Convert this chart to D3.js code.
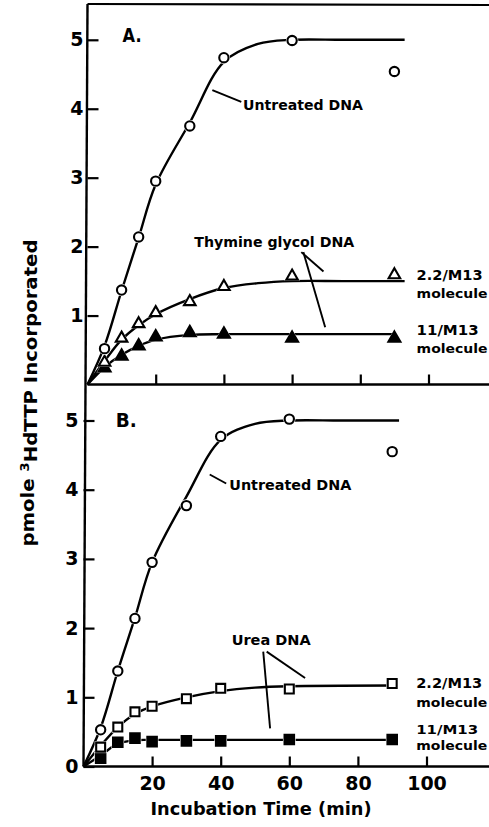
<!DOCTYPE html>
<html><head><meta charset="utf-8">
<script src="https://cdn.jsdelivr.net/npm/d3@7"></script>
<style>
body{margin:0;background:#fff}
svg{display:block}
text{font-family:"DejaVu Sans",sans-serif;font-weight:bold;fill:#000}
</style>
</head><body>
<svg id="c" width="489" height="827"></svg>
<script>
// ---- data (time in min, pmole 3HdTTP incorporated) ----
const times = [5, 10, 15, 20, 30, 40, 60, 90];
const untreatedA = [0.52, 1.37, 2.14, 2.95, 3.75, 4.74, 4.99, 4.54];
const thymine22A = [0.32, 0.67, 0.88, 1.04, 1.20, 1.42, 1.57, 1.59];
const thymine11A = [0.24, 0.41, 0.56, 0.69, 0.75, 0.73, 0.67, 0.67];
const untreatedB = [0.53, 1.38, 2.14, 2.95, 3.77, 4.77, 5.02, 4.55];
const urea22B = [0.28, 0.57, 0.79, 0.87, 0.98, 1.13, 1.12, 1.20];
const urea11B = [0.12, 0.35, 0.41, 0.36, 0.37, 0.37, 0.39, 0.39];

// fitted curves drawn by hand in the original figure
const fitUntreatedA = [[0,0],[5,0.56],[10,1.36],[15,2.13],[20,2.9],[30,3.8],[40,4.68],[50,4.94],[60,5.0],[75,5.0],[93,5.0]];
const fitThymine22A = [[0,0],[5,0.34],[10,0.65],[15,0.86],[20,1.02],[30,1.24],[40,1.40],[50,1.47],[60,1.50],[75,1.50],[93,1.50]];
const fitThymine11A = [[0,0],[5,0.25],[10,0.43],[15,0.56],[20,0.65],[30,0.72],[40,0.73],[60,0.73],[90,0.73]];
const fitUntreatedB = [[0,0],[5,0.56],[10,1.38],[15,2.15],[20,2.95],[30,3.9],[40,4.72],[50,4.95],[60,5.0],[75,5.0],[92,5.0]];
const fitUrea22B = [[0,0],[5,0.30],[10,0.57],[15,0.76],[20,0.87],[30,1.0],[40,1.09],[50,1.14],[60,1.16],[90,1.17]];
const fitUrea11B = [[0,0],[5,0.16],[10,0.33],[15,0.38],[20,0.385],[40,0.385],[90,0.385]];

const yTicksA = [1, 2, 3, 4, 5];
const yTicksB = [0, 1, 2, 3, 4, 5];
const xTicks = [20, 40, 60, 80, 100];

// ---- scales ----
const xA = d3.scaleLinear().domain([0, 118]).range([87.5, 87.5 + 118 * 3.41]);
const xB = d3.scaleLinear().domain([0, 118]).range([83.5, 83.5 + 118 * 3.43]);
const yA = d3.scaleLinear().domain([0, 5]).range([384.5, 39.8]);
const yB = d3.scaleLinear().domain([0, 5]).range([766.5, 420.5]);

const svg = d3.select("#c");
svg.append("rect").attr("width", 489).attr("height", 827).attr("fill", "#fff");

const W = 489;
// frame lines
svg.append("line").attr("x1", xA(0)).attr("y1", 4).attr("x2", W).attr("y2", 5)
  .attr("stroke", "#000").attr("stroke-width", 2.2);
svg.append("line").attr("x1", xA(0)).attr("y1", yA(0)).attr("x2", W).attr("y2", yA(0))
  .attr("stroke", "#000").attr("stroke-width", 2.4);
svg.append("line").attr("x1", xB(0)).attr("y1", yB(0)).attr("x2", W).attr("y2", yB(0))
  .attr("stroke", "#000").attr("stroke-width", 2.4);
svg.append("line").attr("x1", xA(0)).attr("y1", 4).attr("x2", xB(0)).attr("y2", yB(0))
  .attr("stroke", "#000").attr("stroke-width", 2.4);

function styleAxis(g) {
  g.select(".domain").remove();
  g.selectAll(".tick line").attr("stroke", "#000").attr("stroke-width", 2.2);
  g.selectAll(".tick text").attr("font-size", 19).attr("fill", "#000")
    .attr("font-family", "DejaVu Sans").attr("font-weight", "bold");
}

// y axes (ticks inward)
svg.append("g").attr("transform", `translate(${xA(0)},0)`)
  .call(d3.axisLeft(yA).tickValues(yTicksA).tickSizeInner(-11).tickSizeOuter(0).tickPadding(4).tickFormat(d3.format("d")))
  .call(styleAxis);
svg.append("g").attr("transform", `translate(${xB(0)},0)`)
  .call(d3.axisLeft(yB).tickValues(yTicksB).tickSizeInner(-11).tickSizeOuter(0).tickPadding(5).tickFormat(d3.format("d")))
  .call(styleAxis);

// x axes (ticks inward)
svg.append("g").attr("transform", `translate(0,${yA(0)})`)
  .call(d3.axisBottom(xA).tickValues(xTicks).tickSizeInner(-10).tickSizeOuter(0).tickFormat(""))
  .call(styleAxis);
svg.append("g").attr("transform", `translate(0,${yB(0)})`)
  .call(d3.axisBottom(xB).tickValues(xTicks).tickSizeInner(-10).tickSizeOuter(0).tickPadding(10).tickFormat(d3.format("d")))
  .call(styleAxis);

// curves
function curve(data, x, y) {
  svg.append("path").datum(data)
    .attr("d", d3.line().x(d => x(d[0])).y(d => y(d[1])).curve(d3.curveCatmullRom.alpha(0.5)))
    .attr("fill", "none").attr("stroke", "#000").attr("stroke-width", 2.4);
}
curve(fitUntreatedA, xA, yA);
curve(fitThymine22A, xA, yA);
curve(fitThymine11A, xA, yA);
curve(fitUntreatedB, xB, yB);
curve(fitUrea22B, xB, yB);
curve(fitUrea11B, xB, yB);

// markers
function markers(vals, x, y, type, size, filled) {
  const sym = d3.symbol().type(type).size(size);
  const halo = d3.symbol().type(type).size(size * 1.8);
  const g = svg.append("g");
  g.selectAll("path.h").data(vals).join("path").attr("class", "h")
    .attr("transform", (d, i) => `translate(${x(times[i])},${y(d)})`)
    .attr("d", halo).attr("fill", "#fff");
  g.selectAll("path.m").data(vals).join("path").attr("class", "m")
    .attr("transform", (d, i) => `translate(${x(times[i])},${y(d)})`)
    .attr("d", sym).attr("fill", filled ? "#000" : "#fff")
    .attr("stroke", "#000").attr("stroke-width", 2.1).attr("stroke-linejoin", "miter");
}
markers(thymine11A, xA, yA, d3.symbolTriangle, 62, true);
markers(thymine22A, xA, yA, d3.symbolTriangle, 58, false);
markers(untreatedA, xA, yA, d3.symbolCircle, 68, false);
markers(urea11B, xB, yB, d3.symbolSquare, 90, true);
markers(urea22B, xB, yB, d3.symbolSquare, 80, false);
markers(untreatedB, xB, yB, d3.symbolCircle, 68, false);

// annotation helpers
function label(txt, x, y, size, len) {
  const t = svg.append("text").attr("x", x).attr("y", y).attr("font-size", size).text(txt);
  if (len) t.attr("textLength", len).attr("lengthAdjust", "spacingAndGlyphs");
  return t;
}
function leader(x1, y1, x2, y2) {
  svg.append("line").attr("x1", x1).attr("y1", y1).attr("x2", x2).attr("y2", y2)
    .attr("stroke", "#000").attr("stroke-width", 1.9);
}

// panel labels
label("A.", xA(10.3), yA(4.97), 19, 19);
label("B.", xB(9.4), yB(4.9), 19, 21);

// Panel A annotations
leader(xA(36.6), yA(4.27), xA(45.1), yA(4.1));
label("Untreated DNA", xA(45.6), yA(3.98), 14, 120);
label("Thymine glycol DNA", xA(31.3), yA(2.0), 14, 160);
leader(xA(62.7), yA(1.92), xA(69.2), yA(1.64));
leader(xA(63.3), yA(1.92), xA(69.7), yA(0.83));
label("2.2/M13", xA(96.5), yA(1.51), 14, 66);
label("molecule", xA(96.5), yA(1.255), 13, 71);
label("11/M13", xA(96.5), yA(0.715), 14, 62);
label("molecule", xA(96.5), yA(0.455), 13, 71);

// Panel B annotations
leader(xB(36.8), yB(4.22), xB(41.6), yB(4.09));
label("Untreated DNA", xB(42.5), yB(3.99), 14, 122);
label("Urea DNA", xB(43.2), yB(1.76), 14, 79);
leader(xB(53.4), yB(1.66), xB(64.6), yB(1.28));
leader(xB(52.4), yB(1.66), xB(54.4), yB(0.55));
label("2.2/M13", xB(97), yB(1.14), 14, 66);
label("molecule", xB(97), yB(0.865), 13, 71);
label("11/M13", xB(97), yB(0.465), 13, 62);
label("molecule", xB(97), yB(0.245), 13, 71);

// axis titles
svg.append("text").attr("x", 261).attr("y", 815).attr("text-anchor", "middle")
  .attr("font-size", 18).attr("textLength", 221).attr("lengthAdjust", "spacingAndGlyphs")
  .text("Incubation Time (min)");
const yt = svg.append("text").attr("transform", "translate(34,393) rotate(-90)")
  .attr("text-anchor", "middle").attr("font-size", 18)
  .attr("textLength", 307).attr("lengthAdjust", "spacingAndGlyphs");
yt.append("tspan").text("pmole ");
yt.append("tspan").attr("dy", "-0.45em").attr("font-size", 12).text("3");
yt.append("tspan").attr("dy", "0.45em").text("HdTTP  Incorporated");
</script>
</body></html>
